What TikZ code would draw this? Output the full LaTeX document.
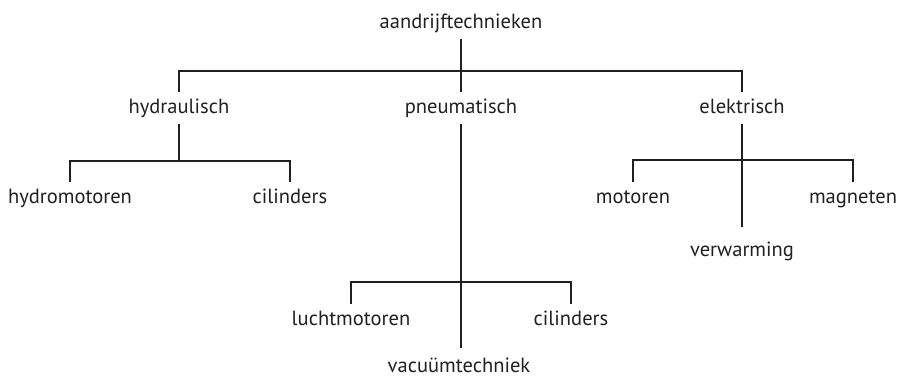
\documentclass[tikz,border=0pt]{standalone}
\usepackage{fontspec}
\setmainfont{PT Sans}
\definecolor{ink}{HTML}{231F20}
\begin{document}
\begin{tikzpicture}[x=0.75pt,y=-0.75pt,
  lbl/.style={anchor=base,inner xsep=0pt,inner ysep=1.5pt,text height=14.25pt,text depth=6.75pt,
    font=\fontsize{15.4}{18}\selectfont,text=ink},
  conn/.style={draw=ink,line width=1.4pt}]
\useasboundingbox (0,0) rectangle (899,376);
\node[lbl] (root) at (461,28) {aandrijftechnieken};
\node[lbl] (hyd) at (179,113) {hydraulisch};
\node[lbl] (pneu) at (461,113) {pneumatisch};
\node[lbl] (elek) at (742,113) {elektrisch};
\node[lbl] (hmot) at (70,203) {hydromotoren};
\node[lbl] (cilA) at (290,203) {cilinders};
\node[lbl] (mot) at (633,203) {motoren};
\node[lbl] (mag) at (853,203) {magneten};
\node[lbl] (verw) at (742,256) {verwarming};
\node[lbl] (lucht) at (351,325) {luchtmotoren};
\node[lbl] (cilB) at (571,325) {cilinders};
\node[lbl,text depth=0pt] (vac) at (459,372) {vacuümtechniek};
\coordinate (barA) at (0,71);
\coordinate (barB) at (0,161);
\coordinate (barC) at (0,160);
\coordinate (barD) at (0,282);
% level 1
\draw[conn] (root.south) -- (pneu.north);
\draw[conn] (hyd.north) -- (hyd.north |- barA) -- (elek.north |- barA) -- (elek.north);
% hydraulisch
\draw[conn] (hyd.south) -- (hyd.south |- barB);
\draw[conn] (hmot.north) -- (hmot.north |- barB) -- (cilA.north |- barB) -- (cilA.north);
% elektrisch
\draw[conn,shorten >=6pt] (elek.south) -- (verw.north);
\draw[conn] (mot.north) -- (mot.north |- barC) -- (mag.north |- barC) -- (mag.north);
% pneumatisch
\draw[conn,shorten >=2.25pt] (pneu.south) -- (pneu.south |- vac.north);
\draw[conn] (lucht.north) -- (lucht.north |- barD) -- (cilB.north |- barD) -- (cilB.north);
\end{tikzpicture}
\end{document}
